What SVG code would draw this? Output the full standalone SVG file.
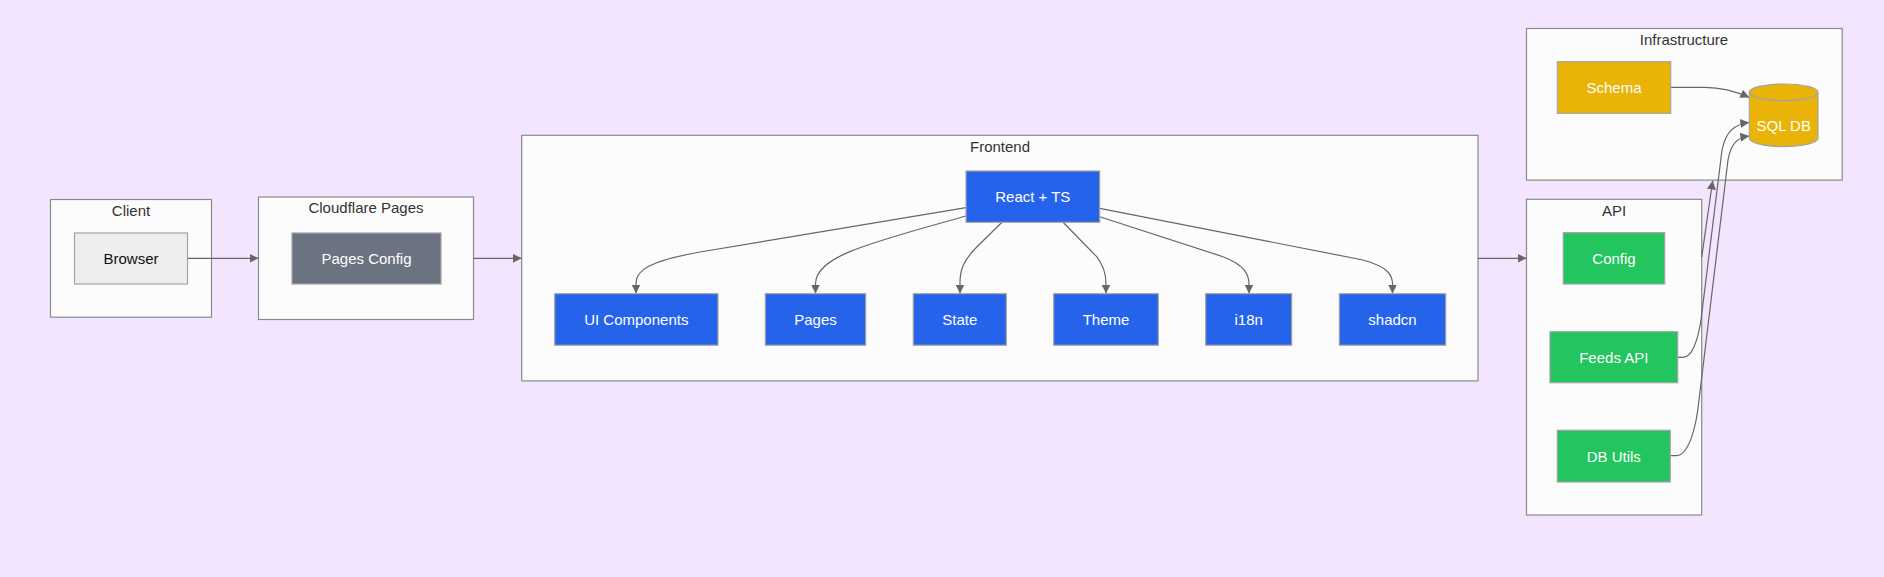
<svg xmlns="http://www.w3.org/2000/svg" width="1884" height="577" viewBox="0 0 1884 577">
<defs>
<style>
.cluster rect{fill:#fcfcfc;stroke:#8a8a8a;stroke-width:1.2}
.ctitle{font-family:"Liberation Sans",Arial,sans-serif;font-size:15px;fill:#333;text-anchor:middle;dominant-baseline:central}
.node rect,.node path{stroke:#a3a3a3;stroke-width:1.2}
.label{font-family:"Liberation Sans",Arial,sans-serif;font-size:15px;fill:#fff;text-anchor:middle;dominant-baseline:central}
.blue rect{fill:#2563eb}
.green rect{fill:#22c55e}
.yellow rect,.yellow path{fill:#eab308}
.gray rect{fill:#6b7280}
.light rect{fill:#eeeeee}
.light .label{fill:#111}
.edges path{fill:none;stroke:#666;stroke-width:1.2;marker-end:url(#arrow)}
</style>
<marker id="arrow" viewBox="0 0 10 10" refX="10" refY="5" markerUnits="userSpaceOnUse" markerWidth="9" markerHeight="9" orient="auto">
<path d="M0,0 L10,5 L0,10 z" fill="#666"/>
</marker>
</defs>
<rect x="0" y="0" width="1884" height="577" fill="#f3e5fd"/>

<g id="cluster-client" class="cluster">
<rect x="50.5" y="199.5" width="161" height="117.7"/>
<text class="ctitle" x="131" y="210.5">Client</text>
</g>
<g id="cluster-cloudflare" class="cluster">
<rect x="258.5" y="197" width="215" height="122.5"/>
<text class="ctitle" x="366" y="207.5">Cloudflare Pages</text>
</g>
<g id="cluster-frontend" class="cluster">
<rect x="521.7" y="135.3" width="956.3" height="245.6"/>
<text class="ctitle" x="1000" y="146.7">Frontend</text>
</g>
<g id="cluster-infrastructure" class="cluster">
<rect x="1526.5" y="28.5" width="315.7" height="151.6"/>
<text class="ctitle" x="1684" y="39.5">Infrastructure</text>
</g>
<g id="cluster-api" class="cluster">
<rect x="1526.5" y="199.3" width="175.2" height="315.7"/>
<text class="ctitle" x="1614" y="210.5">API</text>
</g>

<g id="edges" class="edges">
<path d="M187.5,258.3 L258.5,258.3"/>
<path d="M473.4,258.3 L521.7,258.3"/>
<path d="M1478,258.3 L1526.5,258.3"/>
<path d="M966,207.7 L700,252 C650,261 636,270 636,283 L636,293.5"/>
<path d="M966,216 C870,243 815.5,256 815.5,284 L815.5,293.5"/>
<path d="M1001.7,222.5 L977,246.7 C963,261 960,270 960,283 L960,293.5"/>
<path d="M1063.3,222.5 L1096.7,256.7 C1104,266 1106,275 1106,284 L1106,293.5"/>
<path d="M1099.7,216.7 L1223,256.7 C1245,265 1249,275 1249,284 L1249,293.5"/>
<path d="M1099.7,208.3 L1363,260 C1388,267 1392.5,275 1392.5,284 L1392.5,293.5"/>
<path d="M1670.7,87.3 L1705,87.3 C1722,87.3 1735,91 1749.3,97.5"/>
<path d="M1677.7,357.3 L1683,357.3 C1692,357.3 1698,340 1701,320 L1722,150 C1726,131 1735,124 1749.3,122.5"/>
<path d="M1670.3,455.7 L1676,455.7 C1688,455.7 1696,430 1699,400 L1728,160 C1731,143 1738,137.5 1749.3,136"/>
<path d="M1701.7,257 L1712.7,180.5"/>
</g>

<g id="node-browser" class="node light">
<rect x="74.5" y="233" width="113" height="51"/>
<text class="label" x="131" y="258.5">Browser</text>
</g>
<g id="node-pages-config" class="node gray">
<rect x="292" y="233" width="149" height="51"/>
<text class="label" x="366.5" y="258.5">Pages Config</text>
</g>
<g id="node-react" class="node blue">
<rect x="966" y="171" width="133.7" height="51.3"/>
<text class="label" x="1032.8" y="196.8">React + TS</text>
</g>
<g id="node-ui" class="node blue">
<rect x="554.7" y="293.7" width="163.3" height="51.5"/>
<text class="label" x="636.3" y="319.5">UI Components</text>
</g>
<g id="node-pages" class="node blue">
<rect x="765.3" y="293.7" width="100.4" height="51.5"/>
<text class="label" x="815.5" y="319.5">Pages</text>
</g>
<g id="node-state" class="node blue">
<rect x="913.3" y="293.7" width="93" height="51.5"/>
<text class="label" x="959.8" y="319.5">State</text>
</g>
<g id="node-theme" class="node blue">
<rect x="1053.7" y="293.7" width="104.6" height="51.5"/>
<text class="label" x="1106" y="319.5">Theme</text>
</g>
<g id="node-i18n" class="node blue">
<rect x="1205.7" y="293.7" width="86" height="51.5"/>
<text class="label" x="1248.7" y="319.5">i18n</text>
</g>
<g id="node-shadcn" class="node blue">
<rect x="1339.3" y="293.7" width="106.4" height="51.5"/>
<text class="label" x="1392.5" y="319.5">shadcn</text>
</g>
<g id="node-schema" class="node yellow">
<rect x="1557.3" y="61.7" width="113.4" height="51.6"/>
<text class="label" x="1614" y="87.5">Schema</text>
</g>
<g id="node-sqldb" class="node yellow">
<path d="M1749.3,92.3 a34.35,8.3 0 0,0 68.7,0 a34.35,8.3 0 0,0 -68.7,0 l0,46 a34.35,8.3 0 0,0 68.7,0 l0,-46"/>
<text class="label" x="1783.7" y="125">SQL DB</text>
</g>
<g id="node-config" class="node green">
<rect x="1563.3" y="232.7" width="101.4" height="51.3"/>
<text class="label" x="1614" y="258.3">Config</text>
</g>
<g id="node-feeds" class="node green">
<rect x="1550" y="331.7" width="127.7" height="51"/>
<text class="label" x="1613.8" y="357.2">Feeds API</text>
</g>
<g id="node-dbutils" class="node green">
<rect x="1557.3" y="430.3" width="113" height="51.7"/>
<text class="label" x="1613.8" y="456.2">DB Utils</text>
</g>
</svg>
